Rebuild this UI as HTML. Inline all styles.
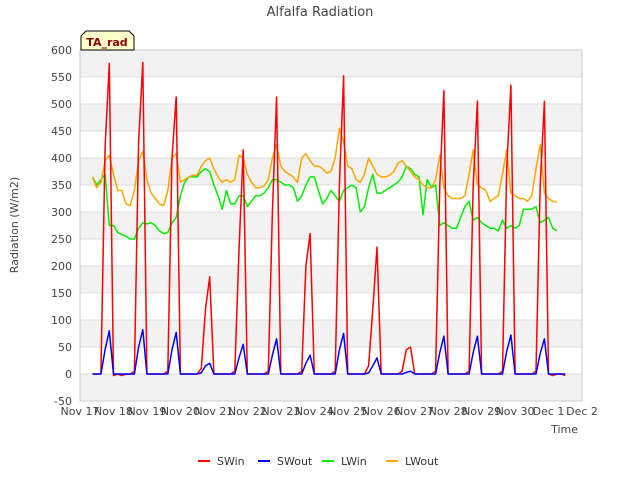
<!DOCTYPE html>
<html><head><meta charset="utf-8"><style>
body{margin:0;background:#fff;font-family:"Liberation Sans","DejaVu Sans",sans-serif;}
svg text{font-family:"DejaVu Sans","Liberation Sans",sans-serif;}
</style></head><body>
<svg id="chart" width="640" height="480" xmlns="http://www.w3.org/2000/svg">
<rect width="640" height="480" fill="#fff"/>
<g id="grid"></g>
<g id="series"></g>
<g id="axes"></g>
<text x="320" y="16" text-anchor="middle" font-size="13" fill="#444">Alfalfa Radiation</text>
<text transform="translate(18,225) rotate(-90)" text-anchor="middle" font-size="11" fill="#444">Radiation (W/m2)</text>
<text x="578" y="433" text-anchor="end" font-size="11" fill="#444">Time</text>
<g>
<path d="M81,50 L81,36 L86,31 L129,31 L134,36 L134,50 Z" fill="#ffffcc" stroke="#000" stroke-width="1"/>
<text x="107" y="46" text-anchor="middle" font-size="11" font-weight="bold" fill="#8b0000">TA_rad</text>
</g>
<g id="legend"></g>
</svg>
<script>
const dayLabels=["Nov 17","Nov 18","Nov 19","Nov 20","Nov 21","Nov 22","Nov 23","Nov 24","Nov 25","Nov 26","Nov 27","Nov 28","Nov 29","Nov 30","Dec 1","Dec 2"];
const yTicks=[-50,0,50,100,150,200,250,300,350,400,450,500,550,600];
const seriesNames=["SWin","SWout","LWin","LWout"];
const seriesColors=["#ff0000","#0000ff","#00ee00","#ffa500"];
const N=null;
const swin=[N,N,N,0,0,0,420,575, -3,0,-3,0,0,5,430,577, 0,0,0,0,0,5,400,513, 0,0,0,0,0,10,120,180, 0,0,0,0,0,5,230,415, 0,0,0,0,0,5,300,513, 0,0,0,0,0,5,200,260, 0,0,0,0,0,5,350,552, 0,0,0,0,0,15,120,235, 0,0,0,0,0,5,45,50, 0,0,0,0,0,5,350,525, 0,0,0,0,0,5,350,505, 0,0,0,0,0,5,380,535, 0,0,0,0,0,5,350,505, 0,-3,0,0,-3,N,N,N];
const swout=[N,N,N,0,0,0,45,80, 0,0,0,0,0,0,50,82, 0,0,0,0,0,0,45,77, 0,0,0,0,0,2,15,20, 0,0,0,0,0,0,30,55, 0,0,0,0,0,0,35,65, 0,0,0,0,0,0,20,35, 0,0,0,0,0,0,45,75, 0,0,0,0,0,2,15,30, 0,0,0,0,0,0,3,5, 0,0,0,0,0,0,40,70, 0,0,0,0,0,0,40,70, 0,0,0,0,0,0,42,72, 0,0,0,0,0,0,38,65, 0,0,0,0,0,N,N,N];
const lwin=[N,N,N,365,350,360,370,275, 275,262,258,255,250,250,270,280, 278,280,275,265,260,262,280,290, 330,355,365,365,365,375,380,375, 350,330,305,340,315,315,330,330, 310,320,330,330,335,345,360,360, 355,350,350,345,320,330,350,365, 365,340,315,325,340,330,320,340, 345,350,345,300,310,345,370,335, 335,340,345,350,355,365,385,380, 370,365,295,360,345,350,275,280, 275,270,270,290,310,320,285,290, 280,275,270,270,265,285,270,275, 270,275,305,305,305,310,280,285, 290,270,265,N,N,N,N,N];
const lwout=[N,N,N,365,345,355,395,405, 370,340,340,315,312,340,395,412, 360,335,325,315,312,340,400,408, 355,360,365,368,368,385,395,400, 380,365,355,360,355,360,405,400, 370,355,345,345,348,360,400,425, 385,375,370,365,355,400,408,395, 385,385,380,372,375,400,455,430, 385,380,360,355,370,400,385,370, 365,365,368,375,390,395,385,375, 365,360,350,345,345,360,405,345, 330,325,325,325,330,370,415,350, 345,340,320,325,330,370,415,335, 330,325,325,320,330,380,425,335, 325,320,318,N,N,N,N,N];
const seriesData=[swin,swout,lwin,lwout];
const X0=80,X1=582,Y0=401,Y1=50,DAYS=15,STEP=0.125;
const xs=d=>X0+d/DAYS*(X1-X0);
const ys=v=>Y0-(v+50)/650*(Y0-Y1);
const NS="http://www.w3.org/2000/svg";
function mk(tag,attrs,parent){const e=document.createElementNS(NS,tag);for(const k in attrs)e.setAttribute(k,attrs[k]);parent.appendChild(e);return e;}
const grid=document.getElementById('grid');
for(let i=0;i<yTicks.length-1;i++){
  if(i%2===0){const r=mk('rect',{x:X0,y:ys(yTicks[i+1]),width:X1-X0,height:ys(yTicks[i])-ys(yTicks[i+1]),fill:'#f2f2f2'},grid);
  
  }
}
const axes=document.getElementById('axes');
yTicks.forEach(v=>{
  const l=mk('line',{x1:X0,x2:X1,y1:ys(v),y2:ys(v),stroke:'#dcdcdc','stroke-width':1},grid);
  
  
  const t=mk('text',{x:X0-8,y:ys(v)+4,'text-anchor':'end','font-size':11,fill:'#444'},axes);
  t.textContent=v;
  
  
});
dayLabels.forEach((s,i)=>{
  const t=mk('text',{x:xs(i),y:415,'text-anchor':'middle','font-size':11,fill:'#444'},axes);
  t.textContent=s;
  
  
});
const frame=mk('rect',{x:X0,y:Y1,width:X1-X0,height:Y0-Y1,fill:'none',stroke:'#ccc'},axes);


const sg=document.getElementById('series');
[2,3,0,1].forEach(si=>{
  const arr=seriesData[si];let d='',pen=false;
  arr.forEach((v,i)=>{if(v===null){pen=false;return;}d+=(pen?'L':'M')+xs(i*STEP).toFixed(1)+','+ys(v).toFixed(1);pen=true;});
  const p=mk('path',{d:d,fill:'none',stroke:seriesColors[si],'stroke-width':1.5,'stroke-linejoin':'round'},sg);
  
  
});
const lg=document.getElementById('legend');
const lx=[198,258,322,386];
seriesNames.forEach((n,i)=>{
  const g=mk('g',{},lg);
  
  
  mk('line',{x1:lx[i],x2:lx[i]+12,y1:461,y2:461,stroke:seriesColors[i],'stroke-width':2},g);
  const t=mk('text',{x:lx[i]+19,y:465,'font-size':11,fill:'#333'},g);
  t.textContent=n;
});
</script>
</body></html>
